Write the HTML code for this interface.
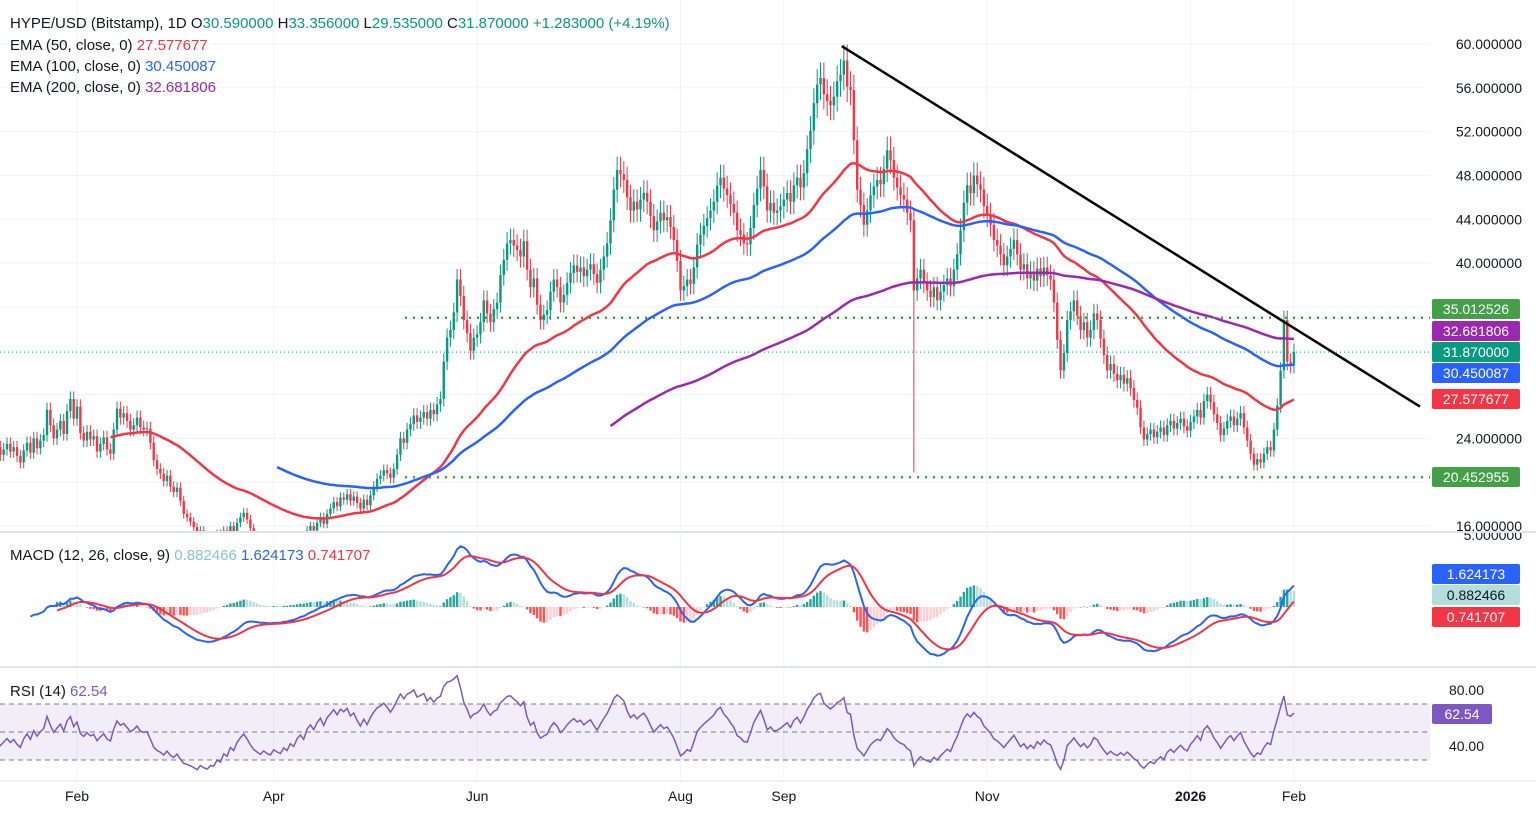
<!DOCTYPE html>
<html><head><meta charset="utf-8">
<style>
html,body{margin:0;padding:0;background:#fff;}
body{width:1536px;height:813px;overflow:hidden;font-family:"Liberation Sans",sans-serif;}
svg text{font-family:"Liberation Sans",sans-serif;}
</style></head>
<body>
<svg id="chart" width="1536" height="813" viewBox="0 0 1536 813" xmlns="http://www.w3.org/2000/svg">
<defs>
<clipPath id="cp-price"><rect x="0" y="0" width="1430" height="531"/></clipPath>
<clipPath id="cp-macd"><rect x="0" y="533" width="1430" height="133"/></clipPath>
<clipPath id="cp-rsi"><rect x="0" y="668" width="1430" height="112"/></clipPath>
</defs>
<g id="grid"></g>
<g id="price" clip-path="url(#cp-price)"></g>
<g id="macd" clip-path="url(#cp-macd)"></g>
<g id="rsi" clip-path="url(#cp-rsi)"></g>
<g id="axes"></g>
<line x1="0" y1="532" x2="1536" y2="532" stroke="#e0e3eb" stroke-width="2"/>
<line x1="0" y1="667" x2="1536" y2="667" stroke="#e0e3eb" stroke-width="2"/>
<line x1="0" y1="781" x2="1536" y2="781" stroke="#e0e3eb" stroke-width="1"/>
<g font-size="15">
<text x="10" y="28" fill="#131722">HYPE/USD (Bitstamp), 1D <tspan fill="#131722">O</tspan><tspan fill="#089981">30.590000</tspan> <tspan fill="#131722">H</tspan><tspan fill="#089981">33.356000</tspan> <tspan fill="#131722">L</tspan><tspan fill="#089981">29.535000</tspan> <tspan fill="#131722">C</tspan><tspan fill="#089981">31.870000 +1.283000 (+4.19%)</tspan></text>
<text x="10" y="50" fill="#131722">EMA (50, close, 0) <tspan fill="#f23645">27.577677</tspan></text>
<text x="10" y="71" fill="#131722">EMA (100, close, 0) <tspan fill="#2962ff">30.450087</tspan></text>
<text x="10" y="92" fill="#131722">EMA (200, close, 0) <tspan fill="#9c27b0">32.681806</tspan></text>
<text x="10" y="560" fill="#131722">MACD (12, 26, close, 9) <tspan fill="#80cbc4">0.882466</tspan> <tspan fill="#2962ff">1.624173</tspan> <tspan fill="#f23645">0.741707</tspan></text>
<text x="10" y="696" fill="#131722">RSI (14) <tspan fill="#7e57c2">62.54</tspan></text>
</g>
</svg>
<script>
const closes = [
25,24.5,26,25.2,24,23.5,24.8,25.5,24.2,23.8,
24.5,23.6,22.8,23.4,24.1,23.2,22.5,23.0,23.5,22.8,
23.2,22.4,21.8,22.9,23.6,22.7,24.0,23.1,23.8,24.3,
26.6,25.2,24.0,24.8,25.6,24.4,26.5,27.6,25.8,26.9,
24.5,23.8,24.6,23.9,24.2,22.8,23.5,24.1,23.0,22.6,
24.8,26.7,25.9,26.3,25.6,24.8,25.2,25.9,25.0,24.8,
24.9,23.6,22.0,21.2,20.8,20.1,20.6,19.6,19.1,19.5,
18.3,17.1,16.8,16.4,15.9,15.2,15.6,15.0,14.6,14.9,
14.8,15.3,14.9,15.6,15.2,16.0,15.5,16.3,16.8,17.2,
16.6,15.8,15.1,14.7,14.3,14.6,14.2,14.0,14.4,14.1,
13.9,14.3,14.0,14.5,14.2,14.8,15.1,14.7,15.6,16.0,
15.6,16.3,16.8,16.2,17.1,17.6,18.2,17.8,18.6,18.4,
18.9,18.3,18.7,18.1,17.6,18.4,17.9,18.8,19.6,20.3,
20.6,21.1,20.8,20.4,21.2,22.5,24.0,23.6,24.8,25.3,
26.1,25.5,25.9,26.4,25.8,26.6,26.2,27.1,27.6,31.0,
33.2,33.9,35.5,38.5,37.0,34.8,33.6,32.0,33.2,33.5,
34.6,36.6,35.4,34.6,35.8,36.4,38.9,40.3,41.8,42.1,
41.6,41.2,40.6,42.0,39.4,37.8,38.6,36.2,34.8,35.3,
35.7,37.4,38.5,37.8,36.4,37.1,38.2,39.1,39.8,39.2,
39.6,38.8,39.4,39.9,39.0,38.2,39.4,40.6,41.8,43.9,
46.7,48.5,48.1,47.6,46.0,44.8,45.6,44.9,45.8,46.4,
45.6,44.3,43.0,43.8,44.6,43.9,44.2,43.3,42.1,40.2,
37.5,37.9,38.5,38.1,39.6,41.7,42.6,43.4,44.1,44.8,
45.6,47.1,47.8,46.8,46.2,45.4,44.6,43.0,42.6,41.8,
41.7,43.2,45.3,46.8,48.5,47.0,44.8,45.5,44.6,44.8,
45.2,45.8,46.4,45.6,47.1,47.8,46.9,48.2,50.4,52.1,
54.6,56.3,56.9,55.4,54.8,54.4,55.2,56.6,57.2,58.5,
56.1,55.8,51.2,46.7,45.3,43.5,44.8,46.2,47.0,47.6,
47.2,48.6,50.3,49.4,47.8,46.9,46.2,45.8,44.6,43.9,
37.5,38.6,39.4,38.2,37.5,36.9,37.8,36.6,37.4,38.0,
38.6,37.9,39.4,40.8,43.0,45.5,47.1,46.4,48.0,47.2,
46.7,45.2,44.4,43.5,42.1,41.6,40.8,39.8,40.6,41.3,
42.1,40.8,39.4,39.9,38.6,39.2,38.4,39.5,38.8,39.6,
38.9,38.5,36.4,33.0,30.2,31.8,34.8,35.6,36.6,35.2,
33.9,34.6,33.2,33.9,35.4,34.8,33.1,31.6,30.2,30.8,
29.9,29.3,29.8,29.0,29.5,28.6,27.5,26.8,25.0,23.9,
24.4,24.8,24.1,24.6,25.0,24.3,25.2,25.6,24.9,25.4,
25.8,25.1,24.7,25.5,26.0,26.6,25.9,27.4,28.0,27.3,
26.2,25.4,24.3,24.9,25.6,26.0,25.2,25.8,26.3,25.0,
23.8,22.6,21.6,22.1,21.8,22.6,23.2,22.9,24.8,27.0,
30.2,34.8,31.0,30.7,31.87
];
const specialLows = {290: 20.9};
const priceTicks = [16,20,24,28,32,36,40,44,48,52,56,60];
const priceTickLabels = ["16.000000","20.000000","24.000000","28.000000","32.000000","36.000000","40.000000","44.000000","48.000000","52.000000","56.000000","60.000000"];
const shownPriceTicks = [16,24,40,44,48,52,56,60];
const monthLabels = ["Feb","Apr","Jun","Aug","Sep","Nov","2026","Feb"];
const monthIdx = [39,98,159,220,251,312,373,404];
const rsiTicks = [40,80];
const hLevels = [35.012526, 20.452955];
const trendStart = [268.4, 59.8];
const trendEnd = [441.8, 26.9];

const NS = "http://www.w3.org/2000/svg";
const X0 = -53, STEP = 3.334;
const xS = i => X0 + i*STEP;
const yP = p => 44 + (60-p)*10.955;
const yM = v => 607 - v*14.8;
const yR = v => 690 + (80-v)*1.4;

function mk(parent, tag, attrs){const e=document.createElementNS(NS,tag);for(const k in attrs)e.setAttribute(k,attrs[k]);parent.appendChild(e);return e;}
function ema(src, n, start){const out=new Array(src.length).fill(null);const a=2/(n+1);let s=start||0;while(s<src.length&&src[s]==null)s++;if(s+n-1>=src.length)return out;let sum=0;for(let i=s;i<s+n;i++)sum+=src[i];let v=sum/n;out[s+n-1]=v;for(let i=s+n;i<src.length;i++){v=a*src[i]+(1-a)*v;out[i]=v;}return out;}
function pathOf(arr, yf){let d="";arr.forEach((v,i)=>{if(v==null)return;d+=(d?"L":"M")+xS(i).toFixed(1)+","+yf(v).toFixed(1);});return d;}

const grid=document.getElementById('grid'), price=document.getElementById('price'), macdG=document.getElementById('macd'), rsiG=document.getElementById('rsi'), axes=document.getElementById('axes');

priceTicks.forEach(p=>{const l=mk(grid,'line',{x1:0,x2:1430,y1:yP(p),y2:yP(p),stroke:'#f0f3fa'});

});
monthIdx.forEach(i=>{const l=mk(grid,'line',{x1:xS(i),x2:xS(i),y1:0,y2:781,stroke:'#f0f3fa'});

});

const n=closes.length;
for(let i=1;i<n;i++){
  const o=closes[i-1], c=closes[i], up=c>=o, col=up?'#089981':'#f23645';
  const hi=Math.max(o,c)*1.025, lo=specialLows[i]!=null?specialLows[i]:Math.min(o,c)*0.975;
  const x=xS(i);
  const w=mk(price,'line',{x1:x,x2:x,y1:yP(hi),y2:yP(lo),stroke:col,'stroke-width':1});
  
  
  const yt=yP(Math.max(o,c)), yb=yP(Math.min(o,c));
  const b=mk(price,'rect',{x:x-1.2,y:yt,width:2.4,height:Math.max(1,yb-yt),fill:col});
  
  
}
const e50=ema(closes,50), e100=ema(closes,100), e200=ema(closes,200);
[[e50,'#f23645','ema-50-line'],[e100,'#2962ff','ema-100-line'],[e200,'#9c27b0','ema-200-line']].forEach(([a,c,nm])=>{
  const p=mk(price,'path',{d:pathOf(a,yP),fill:'none',stroke:c,'stroke-width':2.5});
  
  
});
hLevels.forEach(v=>{const l=mk(price,'line',{x1:405,x2:1430,y1:yP(v),y2:yP(v),stroke:'#43a047','stroke-width':2.5,'stroke-dasharray':'2 6'});

});
const cl=mk(price,'line',{x1:0,x2:1430,y1:yP(closes[n-1]),y2:yP(closes[n-1]),stroke:'#089981','stroke-width':1,'stroke-dasharray':'1 3'});


const tl=mk(price,'line',{x1:xS(trendStart[0]),y1:yP(trendStart[1]),x2:xS(trendEnd[0]),y2:yP(trendEnd[1]),stroke:'#000','stroke-width':2.5});



const f12=ema(closes,12), s26=ema(closes,26);
const macd=closes.map((_,i)=>f12[i]!=null&&s26[i]!=null?f12[i]-s26[i]:null);
const sig=ema(macd,9);
const hist=macd.map((v,i)=>v!=null&&sig[i]!=null?v-sig[i]:null);
for(let i=0;i<n;i++){if(hist[i]==null)continue;const h=hist[i],prev=hist[i-1]||0;
  const col=h>=0?(h>=prev?'#26a69a':'#b2dfdb'):(h<prev?'#ff5252':'#ffcdd2');
  const r=mk(macdG,'rect',{x:xS(i)-1.2,y:Math.min(yM(h),yM(0)),width:2.4,height:Math.max(0.5,Math.abs(yM(h)-yM(0))),fill:col});
  
  }
const ml=mk(macdG,'path',{d:pathOf(macd,yM),fill:'none',stroke:'#2962ff','stroke-width':2});


const sl=mk(macdG,'path',{d:pathOf(sig,yM),fill:'none',stroke:'#f23645','stroke-width':2});



const rsi=new Array(n).fill(null);
{let ag=0,al=0;for(let i=1;i<=14;i++){const d=closes[i]-closes[i-1];if(d>0)ag+=d;else al-=d;}ag/=14;al/=14;rsi[14]=100-100/(1+ag/(al||1e-9));
for(let i=15;i<n;i++){const d=closes[i]-closes[i-1];ag=(ag*13+Math.max(d,0))/14;al=(al*13+Math.max(-d,0))/14;rsi[i]=100-100/(1+ag/(al||1e-9));}}
const band=mk(rsiG,'rect',{x:0,y:yR(70),width:1430,height:yR(30)-yR(70),fill:'#7e57c2','fill-opacity':0.1});


[70,50,30].forEach(v=>{const l=mk(rsiG,'line',{x1:0,x2:1430,y1:yR(v),y2:yR(v),stroke:'#787b86','stroke-dasharray':'5 4','stroke-width':1});

});
const rl=mk(rsiG,'path',{d:pathOf(rsi,yR),fill:'none',stroke:'#7e57c2','stroke-width':1.5});



shownPriceTicks.forEach(p=>{const t=mk(axes,'text',{x:1522,y:yP(p)+5,'text-anchor':'end','font-size':14,fill:'#131722'});t.textContent=priceTickLabels[priceTicks.indexOf(p)];

});
{const t=mk(axes,'text',{x:1522,y:540,'text-anchor':'end','font-size':14,fill:'#131722'});t.textContent='5.000000';

}
rsiTicks.forEach(v=>{const t=mk(axes,'text',{x:1484,y:yR(v)+5,'text-anchor':'end','font-size':14,fill:'#131722'});t.textContent=v.toFixed(2);

});
monthLabels.forEach((m,k)=>{const t=mk(axes,'text',{x:xS(monthIdx[k]),y:801,'text-anchor':'middle','font-size':14,fill:'#131722','font-weight':m==='2026'?'bold':'normal'});t.textContent=m;

});

const badges=[[309,'35.012526','#43a047','#fff'],[331,'32.681806','#9c27b0','#fff'],[352,'31.870000','#089981','#fff'],[373,'30.450087','#2962ff','#fff'],[399,'27.577677','#f23645','#fff'],[477,'20.452955','#43a047','#fff'],
[574,'1.624173','#2962ff','#fff'],[595,'0.882466','#b2dfdb','#131722'],[617,'0.741707','#f23645','#fff']];
badges.forEach(([y,txt,bg,fg])=>{const r=mk(axes,'rect',{x:1432,y:y-10,width:88,height:20,rx:2,fill:bg});


const t=mk(axes,'text',{x:1476,y:y+5,'text-anchor':'middle','font-size':14,fill:fg});t.textContent=txt;

});
{const r=mk(axes,'rect',{x:1432,y:704,width:60,height:20,rx:2,fill:'#7e57c2'});


const t=mk(axes,'text',{x:1462,y:719,'text-anchor':'middle','font-size':14,fill:'#fff'});t.textContent='62.54';

}
</script>
</body></html>
